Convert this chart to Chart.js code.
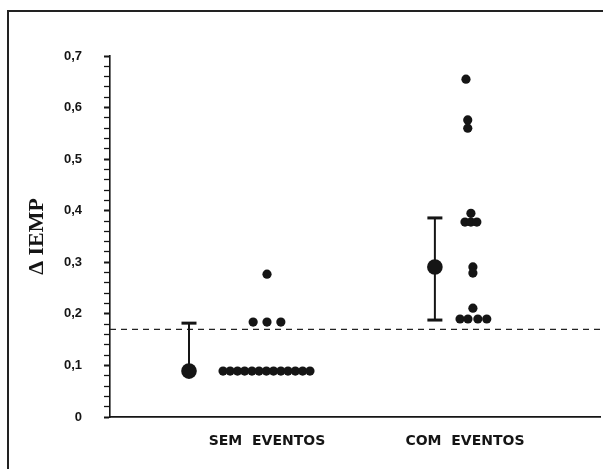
<!DOCTYPE html>
<html>
<head>
<meta charset="utf-8">
<script src="https://cdn.jsdelivr.net/npm/chart.js@4.4.0/dist/chart.umd.min.js"></script>
<style>
  html, body { margin: 0; padding: 0; background: #fff; overflow: hidden; }
  #wrap { position: relative; width: 603px; height: 469px; overflow: hidden; }
  #frame { position: absolute; left: 7px; top: 10px; width: 720px; height: 620px; border: 2px solid #222; box-sizing: border-box; }
  canvas { position: absolute; left: 0; top: 0; }
</style>
</head>
<body>
<div id="wrap">
  <div id="frame"></div>
  <canvas id="chart" width="603" height="469"></canvas>
</div>
<script>
// groups on the x axis (1 = SEM, 2 = COM)
const categories = ['SEM  EVENTOS', 'COM  EVENTOS'];

// individual patients, SEM EVENTOS
const semValues  = [0.089, 0.089, 0.089, 0.089, 0.089, 0.089, 0.089, 0.089, 0.089, 0.089, 0.089, 0.089, 0.089,
                    0.184, 0.184, 0.184, 0.277];
const semOffsets = [-0.222, -0.186, -0.149, -0.113, -0.076, -0.040, -0.003, 0.033, 0.070, 0.106, 0.143, 0.180, 0.217,
                    -0.07, 0, 0.07, 0];

// individual patients, COM EVENTOS
const comValues  = [0.655, 0.576, 0.560, 0.395, 0.378, 0.378, 0.378, 0.291, 0.279, 0.211, 0.19, 0.19, 0.19, 0.19];
const comOffsets = [0.005, 0.014, 0.014, 0.03, 0, 0.03, 0.06, 0.04, 0.04, 0.04, -0.025, 0.015, 0.065, 0.11];

// group mean and error bar
const groupMeans  = [0.089, 0.291];
const errLow      = [0.089, 0.188];
const errHigh     = [0.182, 0.386];
const meanOffsets = [-0.394, -0.152];

// dashed cut-off line
const cutOff = 0.17;

const xMin = 0.207, xMax = 2.682;
const ink = '#151515';

const isMajor = v => Math.round(v * 50) % 5 === 0;

const dots = (vals, offs, group) => vals.map((v, i) => ({ x: group + offs[i], y: v }));

const errorBar = i => ({
    data: [{ x: i + 1 + meanOffsets[i], y: errLow[i] }, { x: i + 1 + meanOffsets[i], y: errHigh[i] }],
    showLine: true,
    borderColor: ink,
    borderWidth: 2,
    pointStyle: 'line',
    pointRadius: i === 0 ? [0, 7.5] : 7.5,
    pointBorderWidth: 3,
    pointBorderColor: ink
});

new Chart(document.getElementById('chart'), {
    type: 'scatter',
    data: {
        datasets: [
            {
                data: groupMeans.map((m, i) => ({ x: i + 1 + meanOffsets[i], y: m })),
                pointRadius: 7.8,
                backgroundColor: ink,
                borderWidth: 0
            },
            errorBar(0),
            errorBar(1),
            {
                data: dots(semValues, semOffsets, 1),
                pointRadius: 4.6,
                backgroundColor: ink,
                borderWidth: 0
            },
            {
                data: dots(comValues, comOffsets, 2),
                pointRadius: 4.6,
                backgroundColor: ink,
                borderWidth: 0
            },
            {
                data: [{ x: xMin, y: cutOff }, { x: xMax, y: cutOff }],
                showLine: true,
                borderColor: '#222',
                borderWidth: 1.3,
                borderDash: [6, 5],
                pointRadius: 0
            }
        ]
    },
    options: {
        responsive: false,
        animation: false,
        layout: { autoPadding: false, padding: { top: 56, right: 3, bottom: 0, left: 10 } },
        plugins: { legend: { display: false }, tooltip: { enabled: false } },
        scales: {
            x: {
                type: 'linear',
                min: xMin,
                max: xMax,
                afterBuildTicks: s => { s.ticks = categories.map((c, i) => ({ value: i + 1 })); },
                afterFit: s => { s.height = 52; },
                grid: { drawOnChartArea: false, drawTicks: false },
                border: { display: true, color: ink, width: 1.8 },
                ticks: {
                    autoSkip: false,
                    maxRotation: 0,
                    padding: 16,
                    color: ink,
                    font: { family: 'DejaVu Sans', weight: 'bold', size: 14 },
                    callback: v => categories[Math.round(v) - 1] || ''
                }
            },
            y: {
                min: 0,
                max: 0.7,
                afterFit: s => { s.width = 100; },
                grid: {
                    drawOnChartArea: false,
                    tickLength: 6,
                    tickColor: ink,
                    tickWidth: c => (isMajor(c.tick.value) ? 2 : 1.3)
                },
                border: { display: true, color: ink, width: 1.6 },
                ticks: {
                    stepSize: 0.02,
                    autoSkip: false,
                    padding: 22,
                    color: ink,
                    font: { family: 'Liberation Sans', weight: 'bold', size: 13 },
                    callback: v => {
                        if (!isMajor(v)) return '';
                        const t = Math.round(v * 10);
                        return t === 0 ? '0' : '0,' + t;
                    }
                },
                title: {
                    display: true,
                    text: 'Δ IEMP',
                    color: ink,
                    padding: { top: 14, bottom: 0 },
                    font: { family: 'Liberation Serif', weight: 'bold', size: 22 }
                }
            }
        }
    }
});
</script>
</body>
</html>
